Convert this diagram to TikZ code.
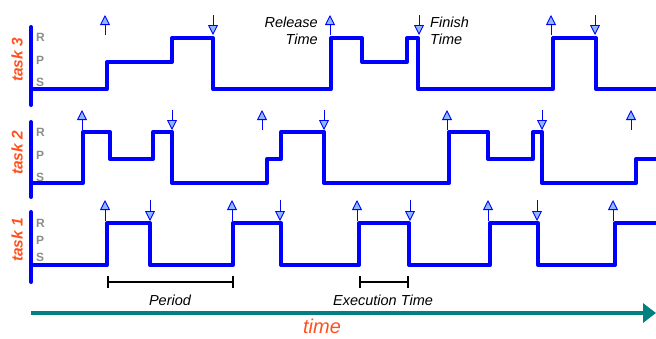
\documentclass[tikz,border=0pt]{standalone}
\usepackage{fontspec}
\setmainfont{Liberation Sans}
\usetikzlibrary{arrows.meta}
\definecolor{wave}{RGB}{0,0,255}
\definecolor{headfill}{RGB}{140,185,255}
\definecolor{tealx}{RGB}{0,128,128}
\definecolor{tasklbl}{RGB}{255,80,30}
\tikzset{
  wavel/.style={wave, line width=4pt, line join=round},
  axisl/.style={wave, line width=4pt, line cap=round},
  relarr/.style={wave, line width=0.9pt, -{Triangle[length=10pt,width=10pt,fill=headfill]}},
  finarr/.style={wave, line width=0.9pt, -{Triangle[length=10pt,width=10pt,fill=headfill]}},
  lvl/.style={font=\bfseries\fontsize{12}{12}\selectfont, text=black!45, anchor=west, inner sep=0pt},
  tlbl/.style={font=\bfseries\itshape\fontsize{15.5}{15.5}\selectfont, text=tasklbl, rotate=90},
  note/.style={font=\itshape\fontsize{14.5}{17}\selectfont, inner sep=0pt},
  brk/.style={black, line width=1.2pt}
}
\begin{document}
\begin{tikzpicture}[x=1pt,y=-1pt]
\useasboundingbox (0,0) rectangle (656,338);
% axes
\draw[axisl] (31,27) -- (31,105);
\draw[axisl] (31,122) -- (31,197);
\draw[axisl] (31,212) -- (31,282);
% labels
\node[tlbl] (t3) at (17,60) {task 3};
\node[tlbl] (t2) at (17,153) {task 2};
\node[tlbl] (t1) at (17,240) {task 1};
\foreach \y/\l in {37/R,60/P,82/S,132/R,155/P,177/S,223/R,240/P,257/S}
  \node[lvl] at (36,\y) {\l};
% task 3
\draw[wavel] (31,89) -- (107,89) -- (107,62) -- (172,62) -- (172,38) -- (213,38) -- (213,89)
  -- (331,89) -- (331,38) -- (362,38) -- (362,62) -- (407,62) -- (407,38) -- (418,38) -- (418,89)
  -- (553,89) -- (553,38) -- (596,38) -- (596,89) -- (656,89);
\foreach \x in {105,330,551} \draw[relarr] (\x,35) -- (\x,15);
\foreach \x in {213,419,595} \draw[finarr] (\x,15) -- (\x,35);
% task 2
\draw[wavel] (31,183) -- (83,183) -- (83,132) -- (110,132) -- (110,159) -- (153,159) -- (153,132)
  -- (172,132) -- (172,183) -- (267,183) -- (267,159) -- (281,159) -- (281,132) -- (324,132)
  -- (324,183) -- (449,183) -- (449,132) -- (488,132) -- (488,159) -- (533,159) -- (533,132)
  -- (542,132) -- (542,183) -- (636,183) -- (636,159) -- (656,159);
\foreach \x in {82,262,447,631} \draw[relarr] (\x,130) -- (\x,110);
\foreach \x in {172,324,542} \draw[finarr] (\x,110) -- (\x,130);
% task 1
\draw[wavel] (31,265) -- (107,265) -- (107,223) -- (150,223) -- (150,265) -- (233,265) -- (233,223)
  -- (281,223) -- (281,265) -- (359,265) -- (359,223) -- (409,223) -- (409,265) -- (490,265)
  -- (490,223) -- (538,223) -- (538,265) -- (615,265) -- (615,223) -- (656,223);
\foreach \x in {105,232,357,488,613} \draw[relarr] (\x,221) -- (\x,200);
\foreach \x in {150,280,410,537} \draw[finarr] (\x,200) -- (\x,221);
% notes
\node[note, anchor=east, align=right] (rel) at (318,31) {Release\\Time};
\node[note, anchor=west, align=left] (fin) at (430,31) {Finish\\Time};
% brackets
\coordinate (pa) at (108,282); \coordinate (pb) at (233,282);
\draw[brk] (pa) -- (pb);
\draw[brk] ([yshift=-6pt]pa) -- ([yshift=6pt]pa);
\draw[brk] ([yshift=-6pt]pb) -- ([yshift=6pt]pb);
\node[note] (per) at (170,300) {Period};
\coordinate (ea) at (360,282); \coordinate (eb) at (408,282);
\draw[brk] (ea) -- (eb);
\draw[brk] ([yshift=-6pt]ea) -- ([yshift=6pt]ea);
\draw[brk] ([yshift=-6pt]eb) -- ([yshift=6pt]eb);
\node[note] (exe) at (383,300) {Execution Time};
% time axis
\coordinate (ta) at (31,313); \coordinate (tb) at (656,313);
\draw[tealx, line width=4.5pt, -{Triangle[length=13pt,width=19pt]}] (ta) -- (tb);
\node[font=\itshape\fontsize{20}{20}\selectfont, text=tasklbl, inner sep=0pt] (tm) at (322,326) {time};
\end{tikzpicture}
\end{document}
